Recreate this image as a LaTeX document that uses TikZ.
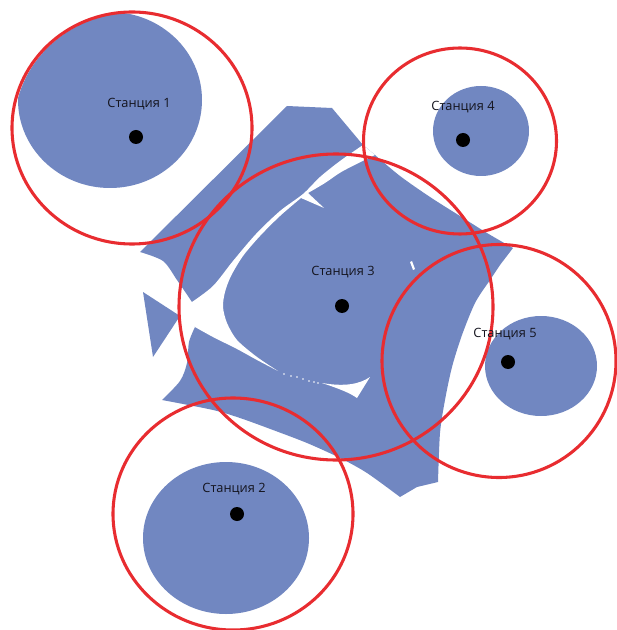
\documentclass[tikz,border=0pt]{standalone}
\usepackage{fontspec}
\setmainfont{Open Sans}
\definecolor{zoneblue}{RGB}{113,135,193}
\definecolor{ringred}{RGB}{232,44,48}
\definecolor{labelcol}{RGB}{20,20,30}
\tikzset{
  zone/.style={fill=zoneblue, draw=none},
  gap/.style={fill=white, draw=none},
  ring/.style={draw=ringred, line width=2.3pt},
  stdot/.style={circle, fill=black, inner sep=0pt, minimum size=10.5pt},
  stlabel/.style={font=\fontsize{9.6pt}{11pt}\selectfont, text=labelcol, inner sep=0pt}
}
\begin{document}
\begin{tikzpicture}[x=0.75pt,y=-0.75pt]
\useasboundingbox (0,0) rectangle (616,630);
% --- coverage zones ---
\begin{scope}
  \clip (132,128) ellipse [x radius=118, y radius=115];
  \fill[zoneblue] (110,100) ellipse [x radius=92, y radius=88];
\end{scope}
\fill[zone] (481,131) ellipse [x radius=48, y radius=45];
\fill[zone] (541,366) ellipse [x radius=56, y radius=50];
\fill[zone] (226,538) ellipse [x radius=83, y radius=76];
% central zone
\fill[zone] (287,106) -- (332,108) -- (363,145) -- (375,155)
  -- plot[smooth] coordinates {(375,155) (400,176) (430,197) (460,216) (487,233) (513,248)}
  -- (500,265) -- (488,283)
  -- plot[smooth] coordinates {(488,283) (475,303) (462,335) (452,367) (445,400) (440,433) (438,482)}
  -- (417,487) -- (400,497)
  -- plot[smooth] coordinates {(400,497) (367,473) (340,458) (307,443) (273,430) (240,418) (213,410) (162,400)}
  -- plot[smooth] coordinates {(162,400) (180,381) (187,363) (189,342) (195,327)}
  -- (192,302)
  -- plot[smooth] coordinates {(192,302) (177,280) (163,261) (140,252)}
  -- cycle;
% left triangle
\fill[zone] (143,292) -- (180,316) -- (153,357) -- cycle;
% white gaps inside the central zone
\fill[gap] (363,145)
  -- plot[smooth] coordinates {(363,145) (340,161) (320,177) (303,194) (280,211) (256,234) (233,261) (213,286) (192,302)}
  -- (186,314) -- (195,327)
  -- plot[smooth] coordinates {(195,327) (213,337) (237,349) (257,360) (278,371)}
  -- plot[smooth] coordinates {(278,371) (257,357) (237,340) (227,323) (223,307) (225,292) (231,276) (243,256) (260,236) (280,216) (301,198)}
  -- (324,208) -- (308,193)
  -- plot[smooth] coordinates {(308,193) (325,183) (343,171) (375,155)}
  -- cycle;
\foreach \p in {(284,374),(291,376),(297,377),(303,379),(309,381),(314,382),(318,383)}
  \fill[white] \p circle [radius=0.9];
\fill[gap] (322,383) .. controls (345,387) and (360,384) .. (370,377)
  -- (357,398) .. controls (350,393) and (340,389) .. (322,383) -- cycle;
\fill[gap] (410,262) -- (412,261) -- (415,269) -- (413,270) -- cycle;
% --- range circles ---
\draw[ring] (132,128) ellipse [x radius=120, y radius=116];
\draw[ring] (460,141) ellipse [x radius=96.5, y radius=93];
\draw[ring] (336,307) ellipse [x radius=157, y radius=153];
\draw[ring] (499,361) ellipse [x radius=117, y radius=116.5];
\draw[ring] (233,514) ellipse [x radius=120, y radius=116];
% --- stations ---
\node[stdot] (d1) at (136,137) {};
\node[stdot] (d2) at (237,514) {};
\node[stdot] (d3) at (342,306) {};
\node[stdot] (d4) at (463,140) {};
\node[stdot] (d5) at (508,362) {};
\node[stlabel] (l1) at (139,104) {Станция 1};
\node[stlabel] (l2) at (234,489) {Станция 2};
\node[stlabel] (l3) at (343,272) {Станция 3};
\node[stlabel] (l4) at (463,107) {Станция 4};
\node[stlabel] (l5) at (505,334) {Станция 5};
\end{tikzpicture}
\end{document}
